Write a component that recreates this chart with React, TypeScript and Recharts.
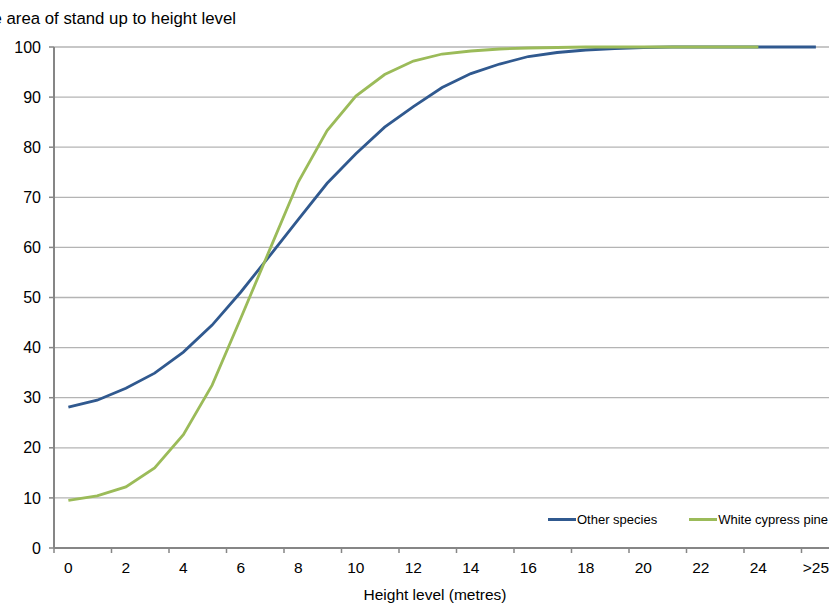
import { LineChart, Line, XAxis, YAxis, CartesianGrid } from 'recharts';

const heightLevels = [
  '0', '1', '2', '3', '4', '5', '6', '7', '8', '9', '10', '11', '12', '13',
  '14', '15', '16', '17', '18', '19', '20', '21', '22', '23', '24', '25', '>25',
];

const otherSpecies = [
  28.1, 29.5, 31.9, 34.9, 39.1, 44.5, 51.1, 58.3, 65.6, 72.8, 78.7, 84.0, 88.1,
  91.9, 94.7, 96.6, 98.1, 98.9, 99.4, 99.7, 99.9, 100, 100, 100, 100, 100, 100,
];

const whiteCypressPine = [
  9.5, 10.4, 12.2, 16.0, 22.6, 32.5, 45.9, 59.5, 73.1, 83.3, 90.2, 94.5, 97.2,
  98.6, 99.2, 99.6, 99.8, 99.9, 100, 100, 100, 100, 100, 100, 100,
];

const xTicks = [0, 2, 4, 6, 8, 10, 12, 14, 16, 18, 20, 22, 24, 26];
const yTicks = [0, 10, 20, 30, 40, 50, 60, 70, 80, 90, 100];

const BLUE = '#30598f';
const GREEN = '#9bbb59';
const AXIS = '#868686';
const GRID = '#b4b4b4';
const FONT = '"Liberation Sans", Arial, sans-serif';

const chartData = heightLevels.map((name, i) => ({
  name,
  x: i + 0.5,
  other: otherSpecies[i] ?? null,
  pine: whiteCypressPine[i] ?? null,
}));

const CHART_W = 860;
const PLOT_LEFT = 54;
const PLOT_RIGHT = 830.25;
const catWidth = (PLOT_RIGHT - PLOT_LEFT) / heightLevels.length;

function XTick(props: any) {
  const { x, y, payload } = props;
  const idx = payload.value as number;
  return (
    <text
      x={x + catWidth / 2}
      y={y}
      dy="0.71em"
      textAnchor="middle"
      fill="#000"
      fontSize={15.5}
      fontFamily={FONT}
    >
      {heightLevels[idx]}
    </text>
  );
}

function LegendItem({ color, label }: { color: string; label: string }) {
  return (
    <div style={{ display: 'flex', alignItems: 'center', marginRight: 32 }}>
      <div style={{ width: 28, height: 3, background: color }} />
      <span style={{ marginLeft: 1 }}>{label}</span>
    </div>
  );
}

export default function App() {
  return (
    <div
      style={{
        position: 'absolute',
        left: 0,
        top: 0,
        width: 829,
        height: 603,
        overflow: 'hidden',
        background: '#fff',
        fontFamily: FONT,
      }}
    >
      {/* y-axis title, cut at the left edge like the source */}
      <div
        style={{
          position: 'absolute',
          right: 829 - 236,
          top: 9,
          fontSize: 16.8,
          whiteSpace: 'nowrap',
          color: '#000',
        }}
      >
        Cumulative area of stand up to height level
      </div>
      <LineChart
        width={CHART_W}
        height={603}
        data={chartData}
        margin={{ top: 47, right: CHART_W - PLOT_RIGHT, bottom: 0, left: 0 }}
      >
        <CartesianGrid vertical={false} stroke={GRID} strokeWidth={1.3} />
        <XAxis
          type="number"
          dataKey="x"
          domain={[0, heightLevels.length]}
          ticks={xTicks}
          interval={0}
          height={55}
          tickSize={5}
          tickMargin={9}
          axisLine={{ stroke: AXIS, strokeWidth: 2 }}
          tickLine={{ stroke: AXIS, strokeWidth: 1.5 }}
          tick={<XTick />}
        />
        <YAxis
          domain={[0, 100]}
          ticks={yTicks}
          width={PLOT_LEFT}
          interval={0}
          tickSize={5}
          tickMargin={8}
          axisLine={{ stroke: AXIS, strokeWidth: 2 }}
          tickLine={{ stroke: AXIS, strokeWidth: 1.5 }}
          tick={{ fill: '#000', fontSize: 16, fontFamily: FONT }}
        />
        <Line
          type="linear"
          dataKey="other"
          stroke={BLUE}
          strokeWidth={2.8}
          dot={false}
          isAnimationActive={false}
        />
        <Line
          type="linear"
          dataKey="pine"
          stroke={GREEN}
          strokeWidth={2.8}
          dot={false}
          isAnimationActive={false}
        />
      </LineChart>
      <div
        style={{
          position: 'absolute',
          left: 548,
          top: 512,
          display: 'flex',
          fontSize: 13,
          whiteSpace: 'nowrap',
          color: '#000',
        }}
      >
        <LegendItem color={BLUE} label="Other species" />
        <LegendItem color={GREEN} label="White cypress pine" />
      </div>
      <div
        style={{
          position: 'absolute',
          left: 435,
          top: 586,
          transform: 'translateX(-50%)',
          fontSize: 15.5,
          whiteSpace: 'nowrap',
          color: '#000',
        }}
      >
        Height level (metres)
      </div>
    </div>
  );
}
